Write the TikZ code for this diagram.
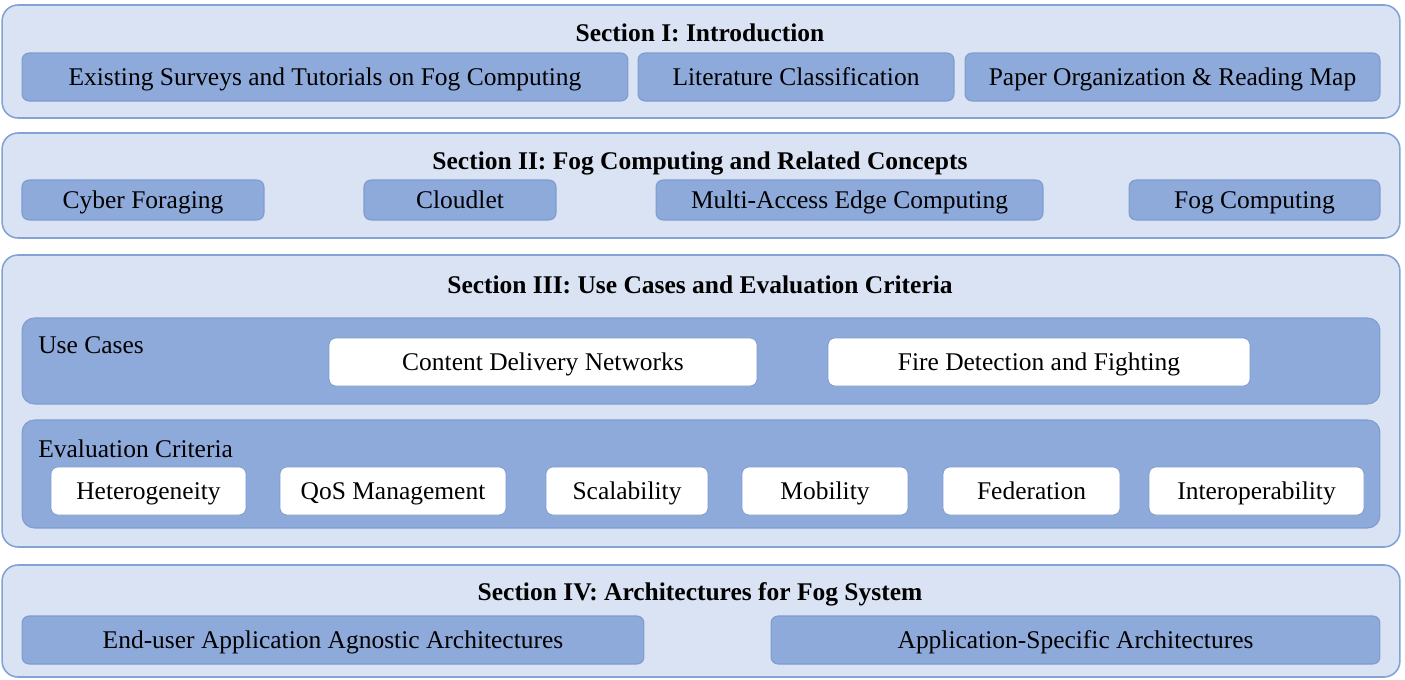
\documentclass[tikz,border=0pt]{standalone}
\usepackage{fontspec}
\setmainfont{Liberation Serif}
\usetikzlibrary{positioning}
\definecolor{panelfill}{HTML}{DAE3F3}
\definecolor{paneldraw}{HTML}{82A3D4}
\definecolor{topicfill}{HTML}{8EAADB}
\definecolor{topicdraw}{HTML}{7E9BD0}
\tikzset{
  txt/.style={font=\fontsize{14.5}{17}\selectfont,text height=12pt,text depth=2pt},
  panel/.style={rectangle,rounded corners=9pt,draw=paneldraw,line width=0.9pt,fill=panelfill},
  group/.style={rectangle,rounded corners=7pt,draw=topicdraw,line width=0.6pt,fill=topicfill},
  topic/.style={rectangle,rounded corners=4pt,draw=topicdraw,line width=0.6pt,fill=topicfill,
    txt,text centered,inner sep=0pt},
  item/.style={rectangle,rounded corners=4pt,draw=topicdraw,line width=0.4pt,fill=white,
    txt,text centered,inner sep=0pt},
  title/.style={font=\fontsize{14.5}{17}\selectfont\bfseries,text height=12pt,text depth=2pt},
  label/.style={txt,anchor=west,inner sep=0pt}
}
\begin{document}
\begin{tikzpicture}[x=0.02cm,y=-0.02cm]
  \useasboundingbox (0,0) rectangle (1405,679);

  % Section I
  \node[panel,minimum width=27.96cm,minimum height=2.26cm] (secI) at (701,61.5) {};
  \node[title] (titleI) at (700,33) {Section I: Introduction};
  \node[topic,minimum width=12.12cm,minimum height=0.96cm] (surveys) at (325,77) {Existing Surveys and Tutorials on Fog Computing};
  \node[topic,minimum width=6.32cm,minimum height=0.96cm] (classif) at (796,77) {Literature Classification};
  \node[topic,minimum width=8.3cm,minimum height=0.96cm] (organ) at (1172.5,77) {Paper Organization \& Reading Map};

  % Section II
  \node[panel,minimum width=27.96cm,minimum height=2.1cm] (secII) at (701,185.5) {};
  \node[title] (titleII) at (700,161) {Section II: Fog Computing and Related Concepts};
  \node[topic,minimum width=4.84cm,minimum height=0.8cm] (cyber) at (143,200) {Cyber Foraging};
  \node[topic,minimum width=3.84cm,minimum height=0.8cm] (cloudlet) at (460,200) {Cloudlet};
  \node[topic,minimum width=7.74cm,minimum height=0.8cm] (mec) at (849.5,200) {Multi-Access Edge Computing};
  \node[topic,minimum width=5.02cm,minimum height=0.8cm] (fog) at (1254.5,200) {Fog Computing};

  % Section III
  \node[panel,minimum width=27.96cm,minimum height=5.84cm] (secIII) at (701,401) {};
  \node[title] (titleIII) at (700,285) {Section III: Use Cases and Evaluation Criteria};
  \node[group,minimum width=27.16cm,minimum height=1.72cm] (usecases) at (701,361) {};
  \node[label] (uclabel) at (38,345) {Use Cases};
  \node[item,minimum width=8.56cm,minimum height=0.96cm] (cdn) at (543,362) {Content Delivery Networks};
  \node[item,minimum width=8.44cm,minimum height=0.96cm] (fire) at (1039,362) {Fire Detection and Fighting};
  \node[group,minimum width=27.16cm,minimum height=2.16cm] (criteria) at (701,474) {};
  \node[label] (eclabel) at (38,449) {Evaluation Criteria};
  \node[item,minimum width=3.9cm,minimum height=0.96cm] (hetero) at (148.5,491) {Heterogeneity};
  \node[item,minimum width=4.52cm,minimum height=0.96cm] (qos) at (393,491) {QoS Management};
  \node[item,minimum width=3.24cm,minimum height=0.96cm] (scal) at (627,491) {Scalability};
  \node[item,minimum width=3.32cm,minimum height=0.96cm] (mobil) at (825,491) {Mobility};
  \node[item,minimum width=3.54cm,minimum height=0.96cm] (feder) at (1031.5,491) {Federation};
  \node[item,minimum width=4.3cm,minimum height=0.96cm] (interop) at (1256.5,491) {Interoperability};

  % Section IV
  \node[panel,minimum width=27.96cm,minimum height=2.24cm] (secIV) at (701,621) {};
  \node[title] (titleIV) at (700,592) {Section IV: Architectures for Fog System};
  \node[topic,minimum width=12.44cm,minimum height=0.96cm] (agnostic) at (333,640) {End-user Application Agnostic Architectures};
  \node[topic,minimum width=12.18cm,minimum height=0.96cm] (specific) at (1075.5,640) {Application-Specific Architectures};
\end{tikzpicture}
\end{document}
